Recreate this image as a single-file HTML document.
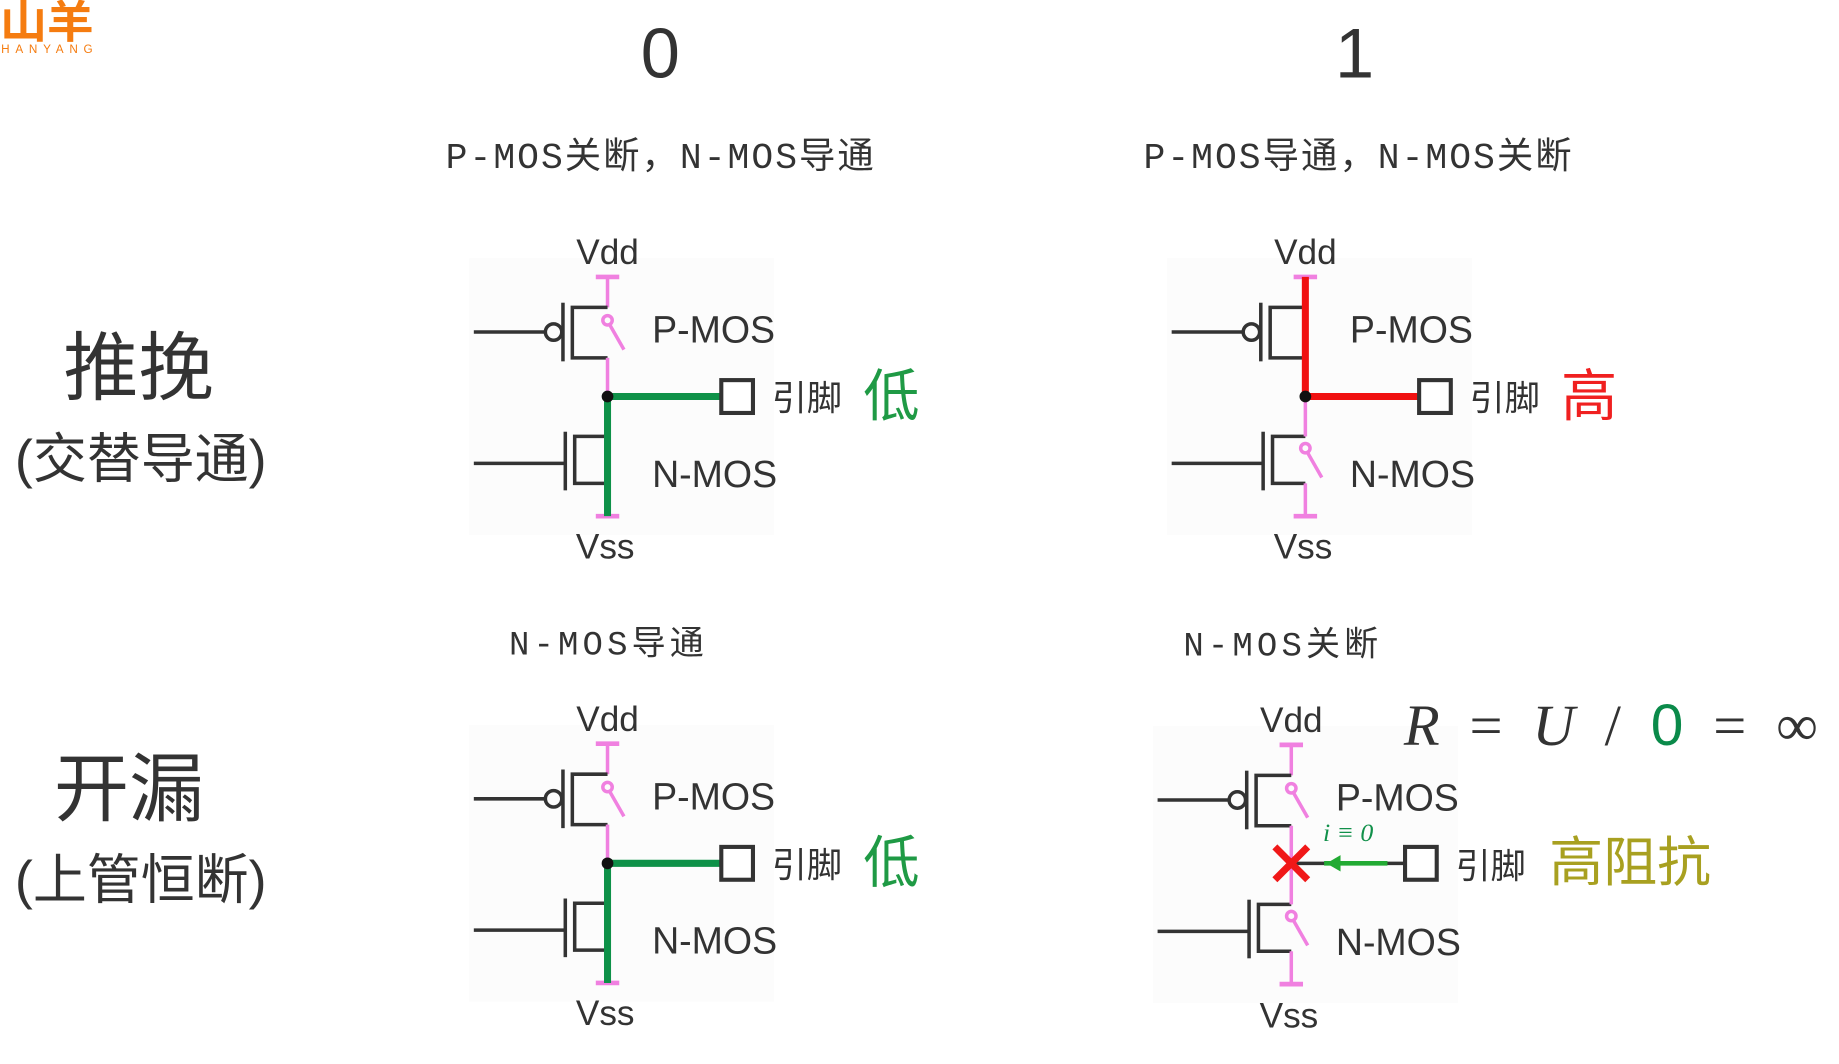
<!DOCTYPE html>
<html><head><meta charset="utf-8"><style>
html,body{margin:0;padding:0;background:#fff;}
svg{display:block}
text{font-family:"Liberation Sans","Noto Sans CJK SC",sans-serif;fill:#333}
.m{font-family:"Liberation Mono","Noto Sans CJK SC",monospace}
</style></head><body>
<svg width="1839" height="1064" viewBox="0 0 1568 907" xmlns="http://www.w3.org/2000/svg">
<defs>
<g id="base" fill="none" stroke-linecap="butt">
  <rect x="-118" y="-16" width="260" height="236" fill="#fcfcfc" stroke="none"/>
  <line x1="-10" y1="0" x2="10" y2="0" stroke="#f080e0" stroke-width="4"/>
  <line x1="-10" y1="204" x2="10" y2="204" stroke="#f080e0" stroke-width="4"/>
  <line x1="0" y1="0" x2="0" y2="26" stroke="#f080e0" stroke-width="3"/>
  <line x1="-114" y1="47" x2="-53" y2="47" stroke="#333" stroke-width="3"/>
  <circle cx="-46" cy="47" r="7" stroke="#333" stroke-width="3"/>
  <line x1="-38" y1="22" x2="-38" y2="72" stroke="#333" stroke-width="3"/>
  <polyline points="0,26 -30,26 -30,69 0,69" stroke="#333" stroke-width="3"/>
  <line x1="-114" y1="159" x2="-36" y2="159" stroke="#333" stroke-width="3"/>
  <line x1="-36" y1="132" x2="-36" y2="182" stroke="#333" stroke-width="3"/>
  <polyline points="0,136 -28,136 -28,176 0,176" stroke="#333" stroke-width="3"/>
</g>
<g id="poff" fill="none" stroke="#f080e0" stroke-width="3">
  <circle cx="0" cy="37" r="4"/>
  <line x1="2" y1="41" x2="14" y2="62"/>
  <line x1="0" y1="69" x2="0" y2="102"/>
</g>
<g id="noff" fill="none" stroke="#f080e0" stroke-width="3">
  <line x1="0" y1="102" x2="0" y2="136"/>
  <circle cx="0" cy="146" r="4"/>
  <line x1="2" y1="150" x2="14" y2="171"/>
  <line x1="0" y1="176" x2="0" y2="204"/>
</g>
</defs>

<text x="0" y="32" font-size="38" font-weight="bold" style="fill:#f57c10" textLength="80" lengthAdjust="spacingAndGlyphs">山羊</text>
<text x="1" y="45" font-size="10" style="fill:#f57c10" textLength="78">HANYANG</text>

<text x="563" y="66" font-size="60" text-anchor="middle">0</text>
<text x="1155" y="66" font-size="60" text-anchor="middle">1</text>
<text class="m" x="380" y="143" font-size="31" textLength="365">P-MOS关断，N-MOS导通</text>
<text class="m" x="975" y="143" font-size="31" textLength="365">P-MOS导通，N-MOS关断</text>

<text x="118" y="336" font-size="64" text-anchor="middle">推挽</text>
<text x="120" y="407" font-size="46" text-anchor="middle">(交替导通)</text>
<text x="110" y="695" font-size="64" text-anchor="middle">开漏</text>
<text x="120" y="766" font-size="46" text-anchor="middle">(上管恒断)</text>

<text class="m" x="434" y="558" font-size="29" textLength="166">N-MOS导通</text>
<text class="m" x="1009" y="559" font-size="29" textLength="166">N-MOS关断</text>

<!-- Top-left -->
<g transform="translate(518,236)">
  <use href="#base"/><use href="#poff"/>
  <polyline points="0,204 0,102 96,102" fill="none" stroke="#0e9148" stroke-width="6"/>
  <circle cx="0" cy="102" r="5" fill="#111"/>
  <rect x="97" y="88" width="27" height="28" fill="#fff" stroke="#333" stroke-width="3.5"/>
  <text x="0" y="-11" font-size="30" text-anchor="middle">Vdd</text>
  <text x="-2" y="240" font-size="30" text-anchor="middle">Vss</text>
  <text x="38" y="56" font-size="32">P-MOS</text>
  <text x="38" y="179" font-size="32">N-MOS</text>
  <text x="140" y="114" font-size="30">引脚</text>
  <text x="218" y="118" font-size="48" style="fill:#1f9a45">低</text>
</g>

<!-- Top-right -->
<g transform="translate(1113,236)">
  <use href="#base"/><use href="#noff"/>
  <polyline points="0,0 0,102 97,102" fill="none" stroke="#f01010" stroke-width="6"/>
  <circle cx="0" cy="102" r="5" fill="#111"/>
  <rect x="97" y="88" width="27" height="28" fill="#fff" stroke="#333" stroke-width="3.5"/>
  <text x="0" y="-11" font-size="30" text-anchor="middle">Vdd</text>
  <text x="-2" y="240" font-size="30" text-anchor="middle">Vss</text>
  <text x="38" y="56" font-size="32">P-MOS</text>
  <text x="38" y="179" font-size="32">N-MOS</text>
  <text x="140" y="114" font-size="30">引脚</text>
  <text x="218" y="118" font-size="48" style="fill:#f02020">高</text>
</g>

<!-- Bottom-left -->
<g transform="translate(518,634)">
  <use href="#base"/><use href="#poff"/>
  <polyline points="0,204 0,102 96,102" fill="none" stroke="#0e9148" stroke-width="6"/>
  <circle cx="0" cy="102" r="5" fill="#111"/>
  <rect x="97" y="88" width="27" height="28" fill="#fff" stroke="#333" stroke-width="3.5"/>
  <text x="0" y="-11" font-size="30" text-anchor="middle">Vdd</text>
  <text x="-2" y="240" font-size="30" text-anchor="middle">Vss</text>
  <text x="38" y="56" font-size="32">P-MOS</text>
  <text x="38" y="179" font-size="32">N-MOS</text>
  <text x="140" y="114" font-size="30">引脚</text>
  <text x="218" y="118" font-size="48" style="fill:#1f9a45">低</text>
</g>

<!-- Bottom-right -->
<g transform="translate(1101,635)">
  <use href="#base"/><use href="#poff"/><use href="#noff"/>
  <line x1="0" y1="101" x2="96" y2="101" stroke="#333" stroke-width="3"/>
  <line x1="28" y1="101" x2="82" y2="101" stroke="#22aa33" stroke-width="4"/>
  <polygon points="30,101 42,94 42,108" fill="#22aa33"/>
  <path d="M-14,87 L14,115 M14,87 L-14,115" stroke="#f01818" stroke-width="6"/>
  <rect x="97" y="87" width="27" height="28" fill="#fff" stroke="#333" stroke-width="3.5"/>
  <text x="0" y="-11" font-size="30" text-anchor="middle">Vdd</text>
  <text x="-2" y="241" font-size="30" text-anchor="middle">Vss</text>
  <text x="38" y="56" font-size="32">P-MOS</text>
  <text x="38" y="179" font-size="32">N-MOS</text>
  <text x="27" y="82" font-size="22" font-style="italic" style="fill:#11904a;font-family:'Liberation Serif',serif">i ≡ 0</text>
  <text x="140" y="114" font-size="30">引脚</text>
  <text x="220" y="116" font-size="46" style="fill:#a8a020">高阻抗</text>
</g>

<text x="1197" y="635" font-size="50" textLength="353" style="font-family:'Liberation Serif',serif;fill:#333"><tspan font-style="italic">R</tspan> = <tspan font-style="italic">U</tspan> / <tspan style="fill:#0a8a4a;font-family:'Liberation Sans',sans-serif">0</tspan> = ∞</text>
</svg>
</body></html>
